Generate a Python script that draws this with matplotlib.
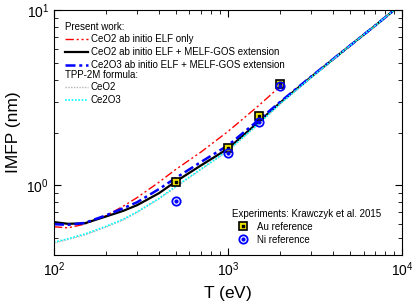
import numpy as np
import matplotlib
matplotlib.use("Agg")
import matplotlib.pyplot as plt
from matplotlib.legend_handler import HandlerTuple

plt.rcParams['font.family'] = ['Liberation Sans', 'DejaVu Sans']
plt.rcParams['mathtext.fontset'] = 'custom'
plt.rcParams['mathtext.rm'] = 'Liberation Sans'
plt.rcParams['mathtext.it'] = 'Liberation Sans:italic'
plt.rcParams['mathtext.default'] = 'regular'

# energies (eV)
energy = [100, 120, 150, 200, 250, 300, 400, 500, 700, 1000, 1500, 2000, 3000, 5000, 7000, 10000]
energy_red = [100, 120, 150, 200, 250, 300, 400, 500, 700, 1000, 1500, 2000]

# IMFP (nm)
ceo2_elf_only = [0.58, 0.572, 0.60, 0.672, 0.76, 0.85, 1.04, 1.23, 1.55, 2.03, 2.85, 3.68]
ceo2_melf = [0.617, 0.603, 0.607, 0.665, 0.715, 0.77, 0.90, 1.05, 1.30, 1.62, 2.30, 2.97, 4.15, 6.25, 8.15, 10.9]
ce2o3_melf = [0.60, 0.595, 0.61, 0.675, 0.74, 0.80, 0.95, 1.10, 1.36, 1.69, 2.36, 3.00, 4.17, 6.25, 8.15, 10.9]
ceo2_tpp = [0.468, 0.49, 0.52, 0.578, 0.635, 0.70, 0.835, 0.975, 1.23, 1.57, 2.24, 2.92, 4.12, 6.25, 8.15, 10.9]
ce2o3_tpp = [0.474, 0.495, 0.527, 0.585, 0.64, 0.705, 0.84, 0.985, 1.24, 1.58, 2.25, 2.93, 4.12, 6.25, 8.15, 10.9]

# experiments, Krawczyk et al. 2015
exp_energy = [500, 1000, 1500, 2000]
au_ref = [1.05, 1.63, 2.48, 3.78]
ni_ref = [0.81, 1.52, 2.29, 3.68]

fig = plt.figure(figsize=(4.15, 3.04), dpi=100)
ax = fig.add_axes([0.130, 0.161, 0.839, 0.806])

l_red, = ax.plot(energy_red, ceo2_elf_only, color='red', lw=1.0,
                 dashes=(6, 2, 1.5, 2, 1.5, 2), label='CeO2 ab initio ELF only')
l_blk, = ax.plot(energy, ceo2_melf, color='black', lw=1.6,
                 label='CeO2 ab initio ELF + MELF-GOS extension')
l_blu, = ax.plot(energy, ce2o3_melf, color='blue', lw=1.8,
                 dashes=(4, 1.5, 1.2, 1.5), label='Ce2O3 ab initio ELF + MELF-GOS extension')
l_gry, = ax.plot(energy, ceo2_tpp, color='#b4b4b4', lw=1.0, ls=(0, (1, 1)), label='CeO2')
l_cyn, = ax.plot(energy, ce2o3_tpp, color='cyan', lw=1.2, ls=(0, (1, 1)), label='Ce2O3')

au1, = ax.plot(exp_energy, au_ref, ls='none', marker='s', ms=6, mfc='#e8e000',
               mec='black', mew=1.2)
au2, = ax.plot(exp_energy, au_ref, ls='none', marker='s', ms=1.8, mfc='black', mec='black')
ni1, = ax.plot(exp_energy, ni_ref, ls='none', marker='o', ms=6, mfc='none',
               mec='blue', mew=1.3)
ni2, = ax.plot(exp_energy, ni_ref, ls='none', marker='o', ms=2, mfc='blue', mec='blue')

ax.set_xscale('log')
ax.set_yscale('log')
ax.set_xlim(100, 10000)
ax.set_ylim(0.4, 10)
ax.set_xlabel('$T$ (eV)', fontsize=12.5)
ax.set_ylabel('IMFP (nm)', fontsize=12.5)
ax.tick_params(which='both', direction='in', top=True, right=True, labelsize=10)
ax.tick_params(which='major', length=5)
ax.tick_params(which='minor', length=3)
ax.yaxis.set_minor_formatter(plt.NullFormatter())

leg1 = ax.legend(handles=[l_red, l_blk, l_blu], title='Present work:', alignment='left',
                 loc='upper left', bbox_to_anchor=(0.032, 0.953), frameon=False,
                 fontsize=7, title_fontsize=7, borderpad=0, borderaxespad=0,
                 labelspacing=0.3, handlelength=2.4, handletextpad=0.25)
ax.add_artist(leg1)
leg2 = ax.legend(handles=[l_gry, l_cyn], title='TPP-2M formula:', alignment='left',
                 loc='upper left', bbox_to_anchor=(0.032, 0.757), frameon=False,
                 fontsize=7, title_fontsize=7, borderpad=0, borderaxespad=0,
                 labelspacing=0.3, handlelength=2.4, handletextpad=0.25)
ax.add_artist(leg2)
ax.legend(handles=[(au1, au2), (ni1, ni2)], labels=['Au reference', 'Ni reference'],
          handler_map={tuple: HandlerTuple(ndivide=1)},
          title='Experiments: Krawczyk et al. 2015', alignment='left',
          loc='upper left', bbox_to_anchor=(0.511, 0.189), frameon=False,
          fontsize=7, title_fontsize=7, borderpad=0, borderaxespad=0,
          labelspacing=0.3, handlelength=2.2, handletextpad=0.4)

fig.savefig('out.png', dpi=100)
